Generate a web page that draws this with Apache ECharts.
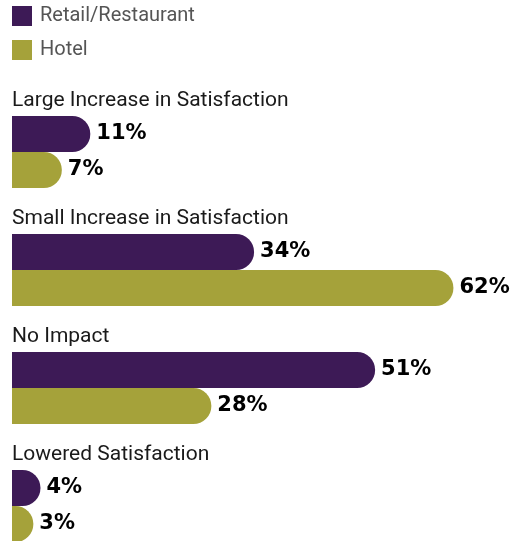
<!DOCTYPE html>
<html><head><meta charset="utf-8">
<script src="https://cdn.jsdelivr.net/npm/echarts@6/dist/echarts.min.js"></script>
<style>html,body{margin:0;padding:0;background:#fff}#c{width:515px;height:541px}</style>
</head><body><div id="c"></div>
<script>
const categories = ['Large Increase in Satisfaction','Small Increase in Satisfaction','No Impact','Lowered Satisfaction'];
const seriesNames = ['Retail/Restaurant','Hotel'];
const retail = [11,34,51,4];
const hotel = [7,62,28,3];
const colors = ['#3d1a56','#a5a23a'];

const chart = echarts.init(document.getElementById('c'));
const mk = (name, data, color) => ({
  name, type:'bar', data, barWidth:36, barGap:'0%',
  itemStyle:{color, borderRadius:[0,18,18,0]},
  label:{show:true, position:'right', distance:6, formatter:'{c}%',
    fontFamily:'DejaVu Sans', fontWeight:'bold', fontSize:21, color:'#000'}
});
chart.setOption({
  animation:false,
  legend:{orient:'vertical', left:7, top:1, itemWidth:20, itemHeight:20, itemGap:14,
    icon:'rect', textStyle:{fontFamily:'Roboto', fontSize:20, color:'#555', padding:[2,0,0,3]}, data:seriesNames},
  grid:{left:12, top:93, width:498.4, height:472, outerBoundsMode:'none', containLabel:false},
  xAxis:{type:'value', min:0, max:70, show:false},
  yAxis:{type:'category', data:categories, inverse:true, z:10,
    axisLine:{show:false}, axisTick:{show:false},
    axisLabel:{inside:true, margin:0, align:'left', verticalAlign:'middle',
      interval:0, showMinLabel:true, showMaxLabel:true, hideOverlap:false,
      formatter: v => '{t|' + v + '}\n{s|}',
      rich:{t:{fontFamily:'Roboto', fontSize:21, lineHeight:22, color:'#1a1a1a'}, s:{lineHeight:102, height:102}}}},
  series:[mk(seriesNames[0], retail, colors[0]), mk(seriesNames[1], hotel, colors[1])]
});
</script></body></html>
